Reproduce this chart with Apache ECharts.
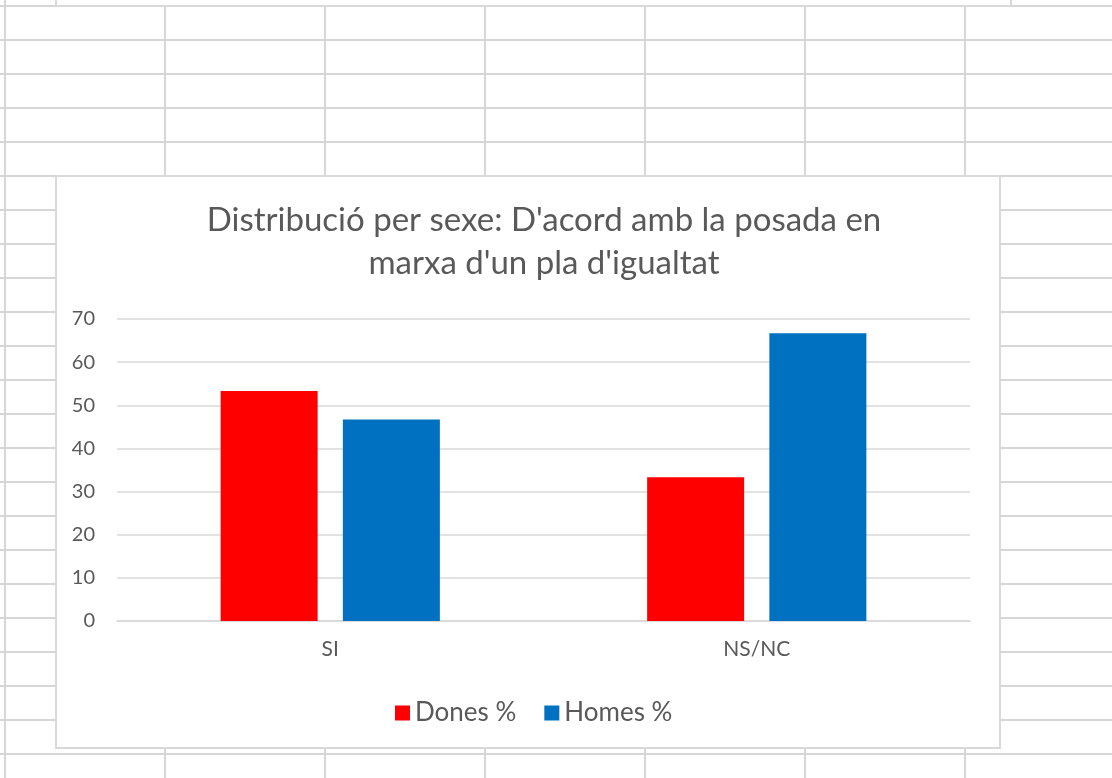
<!DOCTYPE html>
<html>
<head>
<meta charset="utf-8">
<script src="https://cdn.jsdelivr.net/npm/echarts@6/dist/echarts.min.js"></script>
<style>
  html, body { margin: 0; padding: 0; width: 1112px; height: 778px; overflow: hidden; background: #fff; }
  #sheet {
    position: absolute; left: 0; top: 0; width: 1112px; height: 778px;
    background-image:
      linear-gradient(to right, #d6d6d6 2px, transparent 2px),
      linear-gradient(to bottom, #d6d6d6 2px, transparent 2px);
    background-size: 160px 100%, 100% 34px;
    background-position: 4px 0, 0 5px;
  }
  #topbox {
    position: absolute; left: 55px; top: -2px; width: 957px; height: 9px;
    box-sizing: border-box; background: #fff; border: 2px solid #d9d9d9;
  }
  #main {
    position: absolute; left: 55px; top: 175px; width: 946px; height: 574px;
    box-sizing: border-box; background: #fff; border: 2px solid #d9d9d9;
  }
</style>
</head>
<body>
<div id="sheet"></div>
<div id="topbox"></div>
<div id="main"></div>
<script>
// dades
const categories = ['SI', 'NS/NC'];
const dones = [53.3, 33.3];
const homes = [46.7, 66.7];

const chart = echarts.init(document.getElementById('main'), null, { renderer: 'canvas' });

const textColor = '#595959';
const font = 'Lato';

var option = {
  animation: false,
  color: ['#FF0000', '#0070C0'],
  title: {
    text: "Distribució per sexe: D'acord amb la posada en\nmarxa d'un pla d'igualtat",
    left: 482,
    top: 17,
    textAlign: 'center',
    textStyle: {
      color: textColor,
      fontFamily: font,
      fontWeight: 'normal',
      fontSize: 33,
      lineHeight: 43
    }
  },
  legend: {
    left: 333,
    top: 518,
    itemWidth: 15,
    itemHeight: 15,
    itemGap: 28,
    icon: 'rect',
    textStyle: {
      color: textColor,
      fontFamily: font,
      fontSize: 26
    },
    data: ['Dones %', 'Homes %']
  },
  grid: {
    left: 60,
    right: 29,
    top: 142,
    bottom: 126,
    containLabel: false
  },
  xAxis: {
    type: 'category',
    data: categories,
    axisLine: { lineStyle: { color: '#d9d9d9', width: 1.5 } },
    axisTick: { show: false },
    axisLabel: {
      color: textColor,
      fontFamily: font,
      fontSize: 21,
      margin: 18
    }
  },
  yAxis: {
    type: 'value',
    min: 0,
    max: 70,
    interval: 10,
    axisLine: { show: false },
    axisTick: { show: false },
    splitLine: { lineStyle: { color: '#d9d9d9', width: 1.5 } },
    axisLabel: {
      color: textColor,
      fontFamily: font,
      fontSize: 20,
      margin: 22
    }
  },
  series: [
    {
      name: 'Dones %',
      type: 'bar',
      barWidth: 97,
      barGap: '26%',
      data: dones
    },
    {
      name: 'Homes %',
      type: 'bar',
      barWidth: 97,
      barGap: '26%',
      data: homes
    }
  ]
};

chart.setOption(option);
</script>
</body>
</html>
